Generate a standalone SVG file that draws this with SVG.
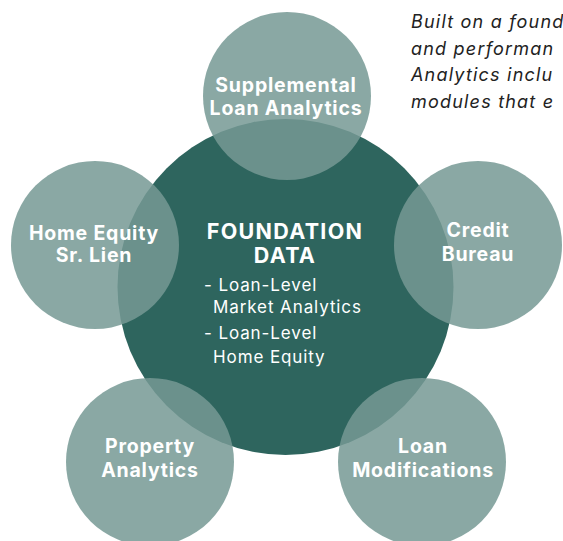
<svg xmlns="http://www.w3.org/2000/svg" width="563" height="541" viewBox="0 0 563 541">
  <style>
    .hub { fill: #2E655E; }
    .mod { fill: #759994; fill-opacity: 0.85; }
    .lbl { font-family: Inter, "Open Sans", "Liberation Sans", sans-serif; font-weight: 700; font-size: 19.5px; fill: #ffffff; text-anchor: middle; letter-spacing: 0.8px; }
    .title { font-family: Inter, "Open Sans", "Liberation Sans", sans-serif; font-weight: 700; font-size: 21.5px; fill: #ffffff; text-anchor: middle; letter-spacing: 1.3px; }
    .item { font-family: Inter, "Open Sans", "Liberation Sans", sans-serif; font-weight: 400; font-size: 17px; fill: #ffffff; letter-spacing: 0.9px; }
    .note { font-family: Inter, "Open Sans", "Liberation Sans", sans-serif; font-style: italic; font-size: 18px; fill: #222222; letter-spacing: 1.2px; }
  </style>
  <rect width="563" height="541" fill="#ffffff"/>
  <g id="note">
    <text class="note" x="411" y="28">Built on a found</text>
    <text class="note" x="411" y="54.5">and performan</text>
    <text class="note" x="411" y="81">Analytics inclu</text>
    <text class="note" x="411" y="107.5">modules that e</text>
  </g>
  <g id="connectors"></g>
  <g id="foundation">
    <circle class="hub" cx="285.5" cy="287" r="168"/>
  </g>
  <g id="supplemental">
    <circle class="mod" cx="287" cy="96" r="84"/>
  </g>
  <g id="home-equity">
    <circle class="mod" cx="95" cy="245" r="84"/>
  </g>
  <g id="credit-bureau">
    <circle class="mod" cx="478" cy="245" r="84"/>
  </g>
  <g id="property">
    <circle class="mod" cx="150" cy="462" r="84"/>
  </g>
  <g id="loan-mod">
    <circle class="mod" cx="422" cy="462" r="84"/>
  </g>
  <g id="labels">
    <text class="lbl" x="286" y="92">Supplemental</text>
    <text class="lbl" x="286" y="115">Loan Analytics</text>
    <text class="lbl" x="94" y="240">Home Equity</text>
    <text class="lbl" x="94" y="262">Sr. Lien</text>
    <text class="lbl" x="478" y="237">Credit</text>
    <text class="lbl" x="478" y="261">Bureau</text>
    <text class="lbl" x="150" y="453">Property</text>
    <text class="lbl" x="150" y="477">Analytics</text>
    <text class="lbl" x="423" y="453">Loan</text>
    <text class="lbl" x="423" y="477">Modifications</text>
    <text class="title" x="285" y="239">FOUNDATION</text>
    <text class="title" x="285" y="263">DATA</text>
    <text class="item" x="204" y="291">- Loan-Level</text>
    <text class="item" x="213" y="313">Market Analytics</text>
    <text class="item" x="204" y="339">- Loan-Level</text>
    <text class="item" x="213" y="363">Home Equity</text>
  </g>
</svg>
